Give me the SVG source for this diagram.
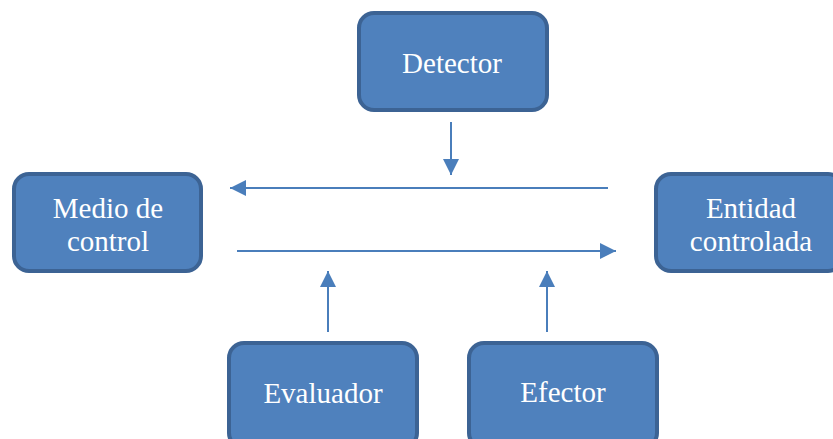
<svg xmlns="http://www.w3.org/2000/svg" width="833" height="439" viewBox="0 0 833 439">
<style>
.box{fill:#4f81bd;stroke:#3c6394;stroke-width:4}
.lbl{font-family:'Liberation Serif','Times New Roman',Times,serif;font-size:29px;fill:#ffffff;text-anchor:middle}
.conn{stroke:#4a7ebb;stroke-width:2;fill:none}
</style>
<defs>
<marker id="ah" viewBox="0 0 10 10" refX="10" refY="5" markerWidth="8" markerHeight="8" markerUnits="strokeWidth" orient="auto">
<path d="M0,0 L10,5 L0,10 z" fill="#4a7ebb"/>
</marker>
</defs>
<g id="detector"><rect class="box" x="359" y="13" width="188" height="97" rx="15"/><text class="lbl" x="452" y="73">Detector</text></g>
<g id="medio"><rect class="box" x="14" y="174" width="187" height="97" rx="15"/><text class="lbl" x="108" y="218">Medio de</text><text class="lbl" x="108" y="251">control</text></g>
<g id="entidad"><rect class="box" x="656" y="174" width="187" height="97" rx="15"/><text class="lbl" x="751" y="218">Entidad</text><text class="lbl" x="751" y="251">controlada</text></g>
<g id="evaluador"><rect class="box" x="229" y="343" width="188" height="105" rx="15"/><text class="lbl" x="323" y="403">Evaluador</text></g>
<g id="efector"><rect class="box" x="469" y="343" width="188" height="105" rx="15"/><text class="lbl" x="563" y="402">Efector</text></g>
<g id="connectors">
<line class="conn" x1="451" y1="122" x2="451" y2="175" marker-end="url(#ah)"/>
<line class="conn" x1="608" y1="188" x2="230" y2="188" marker-end="url(#ah)"/>
<line class="conn" x1="237" y1="251" x2="616" y2="251" marker-end="url(#ah)"/>
<line class="conn" x1="328" y1="332" x2="328" y2="271" marker-end="url(#ah)"/>
<line class="conn" x1="547" y1="332" x2="547" y2="271" marker-end="url(#ah)"/>
</g>
</svg>
